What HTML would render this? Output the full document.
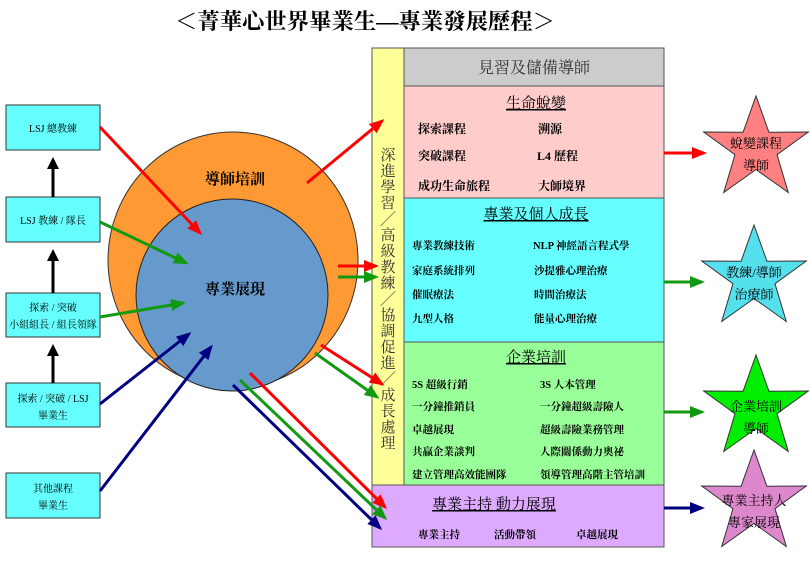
<!DOCTYPE html>
<html><head><meta charset="utf-8"><style>
body{margin:0;background:#fff;}
svg text{font-family:"Liberation Serif","Noto Serif CJK SC","Noto Sans CJK TC",serif;}
</style></head><body>
<svg width="810" height="581" viewBox="0 0 810 581" xmlns="http://www.w3.org/2000/svg">
<defs>
<marker id="mr" markerWidth="5" markerHeight="4" refX="4" refY="2" orient="auto" markerUnits="strokeWidth"><path d="M0,0 L5,2 L0,4 Z" fill="#ff0000"/></marker>
<marker id="mg" markerWidth="5" markerHeight="4" refX="4" refY="2" orient="auto" markerUnits="strokeWidth"><path d="M0,0 L5,2 L0,4 Z" fill="#119911"/></marker>
<marker id="mn" markerWidth="5" markerHeight="4" refX="4" refY="2" orient="auto" markerUnits="strokeWidth"><path d="M0,0 L5,2 L0,4 Z" fill="#000080"/></marker>
<marker id="mk" markerWidth="4" markerHeight="4" refX="3" refY="2" orient="auto" markerUnits="strokeWidth"><path d="M0,0 L4,2 L0,4 Z" fill="#000"/></marker>
</defs>
<text x="365" y="29" font-size="22" font-weight="bold" text-anchor="middle" textLength="380" lengthAdjust="spacingAndGlyphs">＜菁華心世界畢業生—專業發展歷程＞</text>

<g font-size="10" text-anchor="middle" fill="#000">
<rect x="6" y="105" width="94" height="45" fill="#66ffff" stroke="#333"/>
<text x="53" y="132">LSJ 總教練</text>
<rect x="6" y="197" width="94" height="45" fill="#66ffff" stroke="#333"/>
<text x="53" y="224">LSJ 教練 / 隊長</text>
<rect x="6" y="293" width="94" height="44" fill="#66ffff" stroke="#333"/>
<text x="53" y="311">探索 / 突破</text><text x="53" y="328">小組組長 / 組長領隊</text>
<rect x="6" y="383" width="94" height="44" fill="#66ffff" stroke="#333"/>
<text x="53" y="402">探索 / 突破 / LSJ</text><text x="53" y="419">畢業生</text>
<rect x="6" y="473" width="94" height="45" fill="#66ffff" stroke="#333"/>
<text x="53" y="492">其他課程</text><text x="53" y="509">畢業生</text>
</g>
<g stroke="#000" stroke-width="3">
<line x1="53" y1="197" x2="53" y2="160" marker-end="url(#mk)"/>
<line x1="53" y1="293" x2="53" y2="252" marker-end="url(#mk)"/>
<line x1="53" y1="383" x2="53" y2="347" marker-end="url(#mk)"/>
</g>

<ellipse cx="233" cy="260" rx="125" ry="128" fill="#ff9933" stroke="#333"/>
<circle cx="232" cy="295" r="96" fill="#6699cc" stroke="#222"/>
<text x="235" y="184" font-size="15" font-weight="bold" text-anchor="middle">導師培訓</text>
<text x="235" y="294" font-size="15" font-weight="bold" text-anchor="middle">專業展現</text>

<rect x="372" y="48" width="32" height="440" fill="#ffff99" stroke="#555"/>
<text font-size="15" fill="#333" text-anchor="middle">
<tspan x="388" y="160">深</tspan><tspan x="388" y="176">進</tspan><tspan x="388" y="192">學</tspan><tspan x="388" y="208">習</tspan><tspan x="388" y="224">╱</tspan><tspan x="388" y="240">高</tspan><tspan x="388" y="256">級</tspan><tspan x="388" y="272">教</tspan><tspan x="388" y="288">練</tspan><tspan x="388" y="304">╱</tspan><tspan x="388" y="320">協</tspan><tspan x="388" y="336">調</tspan><tspan x="388" y="352">促</tspan><tspan x="388" y="368">進</tspan><tspan x="388" y="384">╱</tspan><tspan x="388" y="400">成</tspan><tspan x="388" y="416">長</tspan><tspan x="388" y="432">處</tspan><tspan x="388" y="448">理</tspan>
</text>
<rect x="404" y="48" width="260" height="38" fill="#cccccc" stroke="#555"/>
<text x="534" y="73" font-size="16" fill="#333" text-anchor="middle">見習及儲備導師</text>
<rect x="404" y="86" width="260" height="112" fill="#ffcccc" stroke="#555"/>
<rect x="404" y="198" width="260" height="144" fill="#66ffff" stroke="#555"/>
<rect x="404" y="342" width="260" height="143" fill="#99ff99" stroke="#555"/>
<rect x="372" y="485" width="292" height="62" fill="#ddaaff" stroke="#555"/>

<g font-size="15" text-anchor="middle" text-decoration="underline">
<text x="536" y="108">生命蛻變</text>
<text x="536" y="219">專業及個人成長</text>
<text x="536" y="362">企業培訓</text>
<text x="494" y="509">專業主持 動力展現</text>
</g>

<g font-size="12" font-weight="bold">
<text x="418" y="133">探索課程</text><text x="538" y="133">溯源</text>
<text x="418" y="160">突破課程</text><text x="537" y="160">L4 歷程</text>
<text x="418" y="190">成功生命旅程</text><text x="538" y="190">大師境界</text>
</g>
<g font-size="10.5" font-weight="bold">
<text x="412" y="249">專業教練技術</text><text x="533" y="249">NLP 神經語言程式學</text>
<text x="412" y="274">家庭系統排列</text><text x="534" y="274">沙提雅心理治療</text>
<text x="412" y="298">催眠療法</text><text x="534" y="298">時間治療法</text>
<text x="412" y="322">九型人格</text><text x="534" y="322">能量心理治療</text>
<text x="412" y="388">5S 超級行銷</text><text x="540" y="388">3S 人本管理</text>
<text x="412" y="410">一分鐘推銷員</text><text x="540" y="410">一分鐘超級壽險人</text>
<text x="412" y="433">卓越展現</text><text x="540" y="433">超級壽險業務管理</text>
<text x="412" y="455">共贏企業談判</text><text x="540" y="455">人際關係動力奧祕</text>
<text x="412" y="478">建立管理高效能團隊</text><text x="540" y="478">領導管理高階主管培訓</text>
<text x="418" y="538">專業主持</text><text x="494" y="538">活動帶領</text><text x="576" y="538">卓越展現</text>
</g>

<g stroke="#333" stroke-width="1">
<polygon points="756,96 768.9,132.2 808.3,132.0 777.0,154.7 788.3,192.5 756,169.5 723.7,192.5 735.0,154.7 703.7,132.0 743.1,132.2" fill="#ff8080"/>
<polygon points="754,225 766.9,261.2 806.3,261.0 775.0,283.7 786.3,321.5 754,298.5 721.7,321.5 733.0,283.7 701.7,261.0 741.1,261.2" fill="#55e0ee"/>
<polygon points="756,355 768.9,391.2 808.3,391.0 777.0,413.7 788.3,451.5 756,428.5 723.7,451.5 735.0,413.7 703.7,391.0 743.1,391.2" fill="#00ee00"/>
<polygon points="754,450 766.9,486.2 806.3,486.0 775.0,508.7 786.3,546.5 754,523.5 721.7,546.5 733.0,508.7 701.7,486.0 741.1,486.2" fill="#dd88cc"/>
</g>
<g font-size="13" text-anchor="middle">
<text x="756" y="148">蛻變課程</text><text x="756" y="170">導師</text>
<text x="754" y="277">教練/導師</text><text x="754" y="299">治療師</text>
<text x="756" y="411">企業培訓</text><text x="756" y="433">導師</text>
<text x="754" y="505">專業主持人</text><text x="754" y="527">專家展現</text>
</g>

<g stroke-width="3" fill="none">
<line x1="100" y1="127" x2="200" y2="233" stroke="#ff0000" marker-end="url(#mr)"/>
<line x1="100" y1="222" x2="186" y2="263" stroke="#119911" marker-end="url(#mg)"/>
<line x1="100" y1="317" x2="183" y2="303" stroke="#119911" marker-end="url(#mg)"/>
<line x1="100" y1="404" x2="189" y2="334" stroke="#000080" marker-end="url(#mn)"/>
<line x1="100" y1="491" x2="211" y2="347" stroke="#000080" marker-end="url(#mn)"/>
<line x1="307" y1="183" x2="382" y2="121" stroke="#ff0000" marker-end="url(#mr)"/>
<line x1="338" y1="266" x2="376" y2="266" stroke="#ff0000" marker-end="url(#mr)"/>
<line x1="338" y1="277" x2="376" y2="277" stroke="#119911" marker-end="url(#mg)"/>
<line x1="321" y1="345" x2="382" y2="384" stroke="#ff0000" marker-end="url(#mr)"/>
<line x1="315" y1="353" x2="377" y2="397" stroke="#119911" marker-end="url(#mg)"/>
<line x1="250" y1="373" x2="385" y2="507" stroke="#ff0000" marker-end="url(#mr)"/>
<line x1="240" y1="380" x2="385" y2="518" stroke="#119911" marker-end="url(#mg)"/>
<line x1="233" y1="385" x2="380" y2="528" stroke="#000080" marker-end="url(#mn)"/>
<line x1="664" y1="153" x2="704" y2="153" stroke="#ff0000" marker-end="url(#mr)"/>
<line x1="664" y1="282" x2="702" y2="282" stroke="#119911" marker-end="url(#mg)"/>
<line x1="664" y1="412" x2="702" y2="412" stroke="#119911" marker-end="url(#mg)"/>
<line x1="664" y1="508" x2="702" y2="508" stroke="#000080" marker-end="url(#mn)"/>
</g>
</svg>
</body></html>
